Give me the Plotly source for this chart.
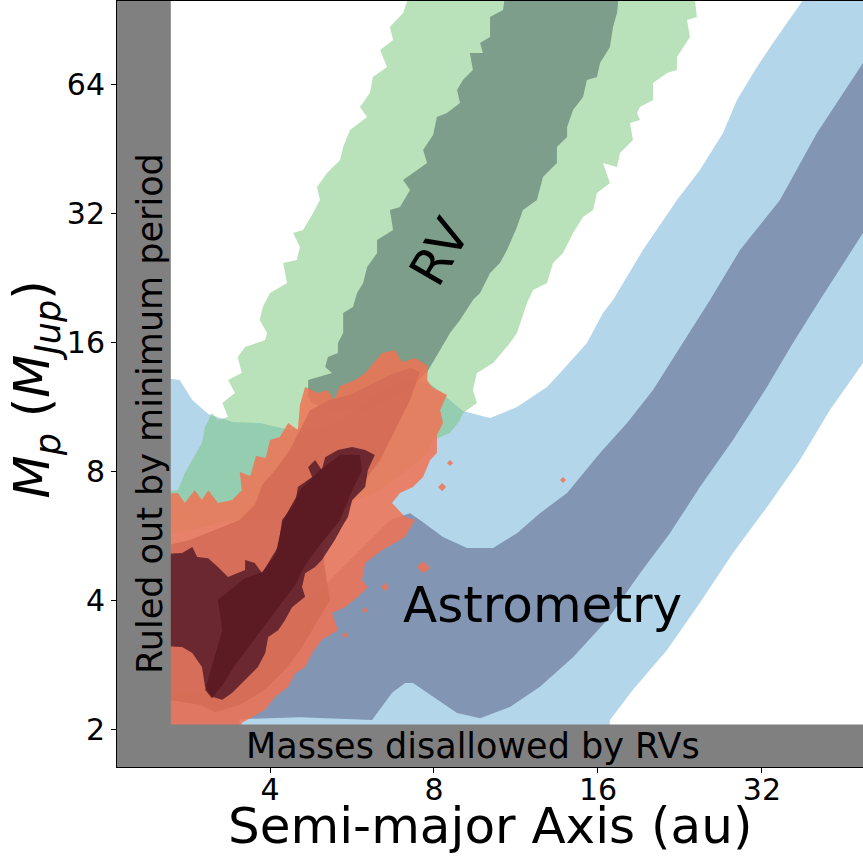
import math
import plotly.graph_objects as go

# Credible-region outlines, vertices as (semi-major axis [au], planet mass [M_Jup])
astro_outer = [(2.0, 1.5), (2.0, 13.76), (2.73, 13.04), (2.88, 11.72), (3.08, 10.87), (3.41, 10.41),
               (3.83, 10.35), (4.35, 9.97), (5.15, 10.24), (6.10, 11.72), (7.08, 13.19), (7.93, 12.70),
               (9.04, 11.04), (10.14, 10.64), (11.36, 11.28), (12.90, 12.56), (13.63, 13.54), (15.27, 15.91),
               (16.34, 18.70), (17.05, 20.05), (19.35, 26.23), (22.34, 34.31), (24.62, 40.32), (27.14, 49.18),
               (28.79, 58.72), (31.33, 70.12), (33.52, 79.77), (40.0, 110), (55, 110), (55, 17.58),
               (42.65, 11.10), (37.58, 8.49), (32.68, 6.59), (28.31, 5.15), (24.62, 3.94), (21.42, 3.06),
               (18.55, 2.47), (16.83, 2.10), (16.48, 1.5)]

astro_inner = [(55, 89.35), (40.37, 49.18), (34.53, 34.31), (29.16, 26.23), (25.69, 20.05), (22.92, 15.91),
               (20.19, 12.36), (18.09, 10.35), (16.14, 8.81), (14.04, 7.11), (12.52, 6.38), (11.36, 5.73),
               (10.27, 5.29), (9.20, 5.29), (8.31, 5.61), (7.54, 6.15), (7.23, 6.38), (6.64, 6.15),
               (5.61, 4.96), (4.54, 3.79), (3.68, 3.06), (2.98, 2.47), (2.0, 2.28), (2.0, 1.5), (3.45, 1.5),
               (3.52, 2.11), (4.54, 2.13), (6.16, 2.10), (6.70, 2.43), (7.08, 2.56), (7.32, 2.56),
               (7.97, 2.38), (8.82, 2.18), (9.72, 2.12), (11.03, 2.25), (12.52, 2.51), (14.40, 2.94),
               (16.62, 3.59), (19.11, 4.62), (21.69, 5.73), (24.62, 7.34), (28.31, 9.45), (32.68, 12.56),
               (36.48, 15.91), (40.89, 20.05), (49.04, 28.74), (55, 36.03)]

rv_outer = [(7.32, 110), (7.02, 93.72), (6.64, 86.93), (6.73, 81.07), (6.37, 76.82), (6.56, 70.12),
            (6.18, 66.45), (6.10, 60.98), (5.85, 56.56), (6.03, 53.60), (5.61, 49.98), (5.45, 45.62),
            (5.38, 42.54), (5.09, 39.67), (4.88, 36.80), (4.94, 34.31), (4.80, 32.00), (4.60, 29.20),
            (4.41, 28.74), (4.54, 26.66), (4.48, 24.86), (4.23, 24.46), (4.30, 21.97), (4.00, 20.82),
            (3.88, 19.31), (3.83, 18.01), (3.95, 16.79), (3.92, 16.17), (3.60, 15.58), (3.49, 14.76),
            (3.55, 13.54), (3.35, 13.04), (3.45, 12.16), (3.27, 11.53), (3.35, 10.69), (3.21, 10.52),
            (3.13, 10.93), (3.04, 10.13), (3.00, 9.30), (2.95, 8.96), (2.79, 7.91), (2.71, 7.22),
            (2.0, 7.03), (2.0, 5.38), (2.85, 5.83), (3.38, 6.15), (4.17, 6.15), (5.15, 6.49), (6.37, 7.22),
            (7.54, 8.49), (7.77, 8.81), (7.97, 9.45), (8.56, 9.81), (8.93, 10.52), (9.04, 10.93),
            (9.59, 11.53), (9.43, 12.36), (9.59, 13.54), (10.27, 14.29), (11.03, 15.91), (11.36, 16.79),
            (11.85, 19.73), (12.16, 21.16), (12.90, 21.97), (13.23, 24.46), (13.80, 25.81), (14.40, 28.74),
            (15.02, 31.32), (15.67, 32.52), (15.93, 35.63), (16.83, 37.60), (16.34, 41.86), (17.34, 40.97),
            (17.56, 44.17), (18.55, 47.37), (18.32, 51.90), (19.11, 52.74), (18.87, 54.76), (19.11, 56.56),
            (20.19, 58.72), (20.19, 64.34), (21.42, 67.89), (22.34, 69.00), (22.34, 73.99), (23.60, 82.38),
            (23.31, 90.26), (24.31, 91.73), (23.91, 110)]

rv_inner = [(10.89, 110), (10.71, 95.24), (10.14, 91.73), (10.14, 82.38), (9.72, 79.77), (9.84, 75.60),
            (9.31, 75.60), (9.43, 69.00), (9.04, 65.39), (8.82, 61.97), (8.93, 57.79), (8.45, 54.76),
            (8.10, 53.60), (7.97, 48.66), (7.64, 44.89), (7.77, 41.86), (7.32, 39.67), (7.02, 38.21),
            (7.23, 36.21), (6.93, 33.05), (6.64, 32.52), (6.73, 29.20), (6.29, 27.68), (6.29, 25.81),
            (6.03, 23.94), (5.93, 21.97), (5.78, 20.82), (5.68, 19.31), (5.45, 18.70), (5.45, 16.79),
            (5.33, 15.91), (5.33, 15.08), (5.11, 14.76), (5.05, 13.99), (5.20, 13.54), (4.90, 13.26),
            (4.70, 13.04), (4.70, 11.91), (4.78, 11.53), (5.15, 11.10), (6.10, 11.10), (7.08, 12.23),
            (7.77, 13.62), (8.21, 15.33), (8.56, 16.79), (8.93, 18.01), (9.43, 20.05), (9.72, 20.82),
            (10.14, 23.18), (10.57, 24.46), (10.89, 26.23), (11.36, 29.68), (11.65, 32.52), (12.36, 34.31),
            (12.68, 38.83), (13.45, 41.86), (13.45, 45.62), (14.04, 48.14), (14.04, 50.79), (14.40, 55.65),
            (15.02, 59.68), (15.27, 65.39), (15.93, 66.45), (16.14, 71.64), (16.83, 78.07), (17.05, 86.93),
            (17.34, 93.72), (17.56, 110)]

joint_3sig = [(2.0, 6.96), (2.71, 7.11), (2.79, 6.74), (2.91, 7.22), (3.00, 6.85), (3.08, 7.22),
              (3.21, 6.74), (3.41, 6.85), (3.55, 7.22), (3.52, 7.96), (3.68, 7.79), (3.77, 8.67),
              (3.93, 8.58), (4.00, 9.45), (4.17, 9.60), (4.32, 10.35), (4.50, 9.97), (4.54, 11.41),
              (4.64, 12.56), (4.90, 12.16), (5.11, 12.36), (5.24, 11.72), (5.38, 12.63), (5.73, 13.04),
              (5.98, 13.54), (6.42, 15.08), (6.78, 15.33), (6.99, 14.37), (7.38, 14.68), (7.80, 14.06),
              (7.77, 13.04), (7.93, 12.56), (8.45, 12.03), (8.21, 11.10), (8.31, 10.35), (8.10, 9.71),
              (8.10, 8.81), (7.87, 8.49), (7.64, 7.75), (7.32, 7.34), (6.93, 7.11), (6.70, 6.74),
              (7.08, 6.25), (7.38, 6.15), (7.08, 5.61), (6.42, 5.23), (5.98, 4.88), (5.90, 4.45),
              (6.05, 4.29), (5.80, 4.07), (5.49, 3.85), (5.20, 3.73), (5.33, 3.40), (4.98, 3.23),
              (4.78, 3.01), (4.64, 2.79), (4.45, 2.70), (4.32, 2.51), (4.09, 2.38), (3.92, 2.22),
              (3.71, 2.13), (3.55, 2.07), (3.49, 1.5), (2.0, 1.5)]

# small detached patches of the outer joint region
joint_3sig_islands = [
    [(7.45, 4.78), (7.64, 4.93), (7.87, 4.75), (7.64, 4.62)],
    [(13.63, 7.62), (13.80, 7.75), (13.98, 7.62), (13.80, 7.50)],
    [(6.39, 4.29), (6.50, 4.38), (6.61, 4.29), (6.50, 4.20)],
    [(5.90, 3.79), (5.98, 3.85), (6.05, 3.79), (5.98, 3.73)],
    [(5.42, 3.31), (5.49, 3.37), (5.56, 3.31), (5.49, 3.26)],
    [(8.45, 8.35), (8.56, 8.49), (8.67, 8.35), (8.56, 8.22)],
    [(8.14, 7.34), (8.28, 7.50), (8.42, 7.34), (8.28, 7.18)],
]

joint_2sig = [(2.0, 4.96), (2.85, 5.52), (3.17, 5.83), (3.52, 6.15), (3.75, 6.66), (3.87, 7.42),
              (4.09, 8.04), (4.35, 8.96), (4.54, 9.97), (4.74, 11.10), (5.15, 11.72), (5.61, 12.03),
              (6.10, 12.70), (6.64, 13.40), (7.23, 13.91), (7.54, 13.62), (7.23, 11.72), (6.78, 9.97),
              (6.37, 8.49), (5.98, 7.62), (5.61, 6.66), (5.33, 6.32), (4.98, 5.52), (5.05, 4.70),
              (5.15, 4.00), (4.84, 3.50), (4.54, 3.06), (4.26, 2.75), (3.92, 2.47), (3.52, 2.28),
              (3.17, 2.19), (2.98, 2.28), (2.0, 2.47)]

joint_1sig = [(5.33, 8.96), (5.66, 9.10), (5.98, 8.96), (6.23, 8.72), (6.05, 8.04), (5.98, 7.34),
              (5.66, 6.85), (5.56, 6.25), (5.42, 5.92), (5.26, 5.52), (4.98, 4.96), (4.84, 4.78),
              (4.64, 4.62), (4.58, 4.29), (4.64, 4.07), (4.39, 3.85), (4.26, 3.59), (4.14, 3.40),
              (3.97, 3.28), (3.92, 3.01), (3.80, 2.79), (3.60, 2.60), (3.41, 2.43), (3.27, 2.34),
              (3.13, 2.38), (3.04, 2.51), (3.00, 2.79), (2.88, 3.01), (2.76, 3.11), (2.0, 3.17),
              (2.0, 5.04), (2.76, 5.15), (2.88, 5.32), (2.94, 5.04), (3.08, 5.01), (3.21, 4.78),
              (3.35, 4.53), (3.60, 4.70), (3.60, 4.96), (3.75, 4.88), (3.87, 4.62), (4.03, 5.04),
              (4.14, 5.32), (4.21, 6.15), (4.45, 6.74), (4.50, 7.34), (4.78, 7.75), (4.70, 8.17),
              (4.84, 8.49), (4.98, 8.04), (5.05, 8.62)]

joint_core = [(3.04, 2.47), (3.17, 2.98), (3.27, 3.40), (3.21, 4.00), (3.60, 4.50), (3.87, 4.65),
              (4.09, 5.09), (4.23, 6.15), (4.54, 7.22), (4.94, 8.04), (5.38, 8.72), (5.85, 8.72),
              (5.90, 8.04), (5.61, 7.03), (5.38, 6.15), (4.94, 5.38), (4.64, 4.83), (4.45, 4.34),
              (4.17, 3.89), (3.92, 3.50), (3.68, 3.14), (3.45, 2.82), (3.27, 2.53), (3.13, 2.36)]

# Excluded regions
min_period_a = 2.63     # au, inner limit from the minimum orbital period
min_mass_m = 2.05       # M_Jup, lower mass limit from the RVs

x_ticks = [4, 8, 16, 32]
y_ticks = [2, 4, 8, 16, 32, 64]
x_lim = (2.095, 49.05)
y_lim = (1.631, 100.0)

FONT = "DejaVu Sans"
GREY = "rgb(128,128,128)"
C_J3 = "rgba(240,114,84,0.85)"

layers = [
    (astro_outer, "rgb(180,214,234)"),
    (astro_inner, "rgb(130,150,180)"),
    (rv_outer, "rgba(116,196,118,0.5)"),
    (rv_inner, "rgba(63,91,90,0.5)"),
    (joint_3sig, C_J3),
] + [(isl, C_J3) for isl in joint_3sig_islands] + [
    (joint_2sig, "rgba(212,107,86,0.85)"),
    (joint_1sig, "rgba(88,28,41,0.85)"),
    (joint_core, "rgba(89,24,32,0.85)"),
]

fig = go.Figure()


def add_region(verts, color):
    a, m = zip(*verts)
    fig.add_trace(go.Scatter(x=list(a) + [a[0]], y=list(m) + [m[0]], mode="lines",
                             fill="toself", fillcolor=color, line=dict(width=0),
                             hoverinfo="skip", showlegend=False))


for verts, color in layers:
    add_region(verts, color)

# grey exclusion bands
add_region([(2.0, 1.5), (min_period_a, 1.5), (min_period_a, 110), (2.0, 110)], GREY)
add_region([(2.0, 1.5), (55, 1.5), (55, min_mass_m), (2.0, min_mass_m)], GREY)

axis_common = dict(type="log", showgrid=False, zeroline=False, showline=True, linecolor="black",
                   linewidth=1, mirror=True, ticks="outside", ticklen=5, tickwidth=1,
                   tickcolor="black", tickfont=dict(family=FONT, size=30, color="black"))

fig.update_layout(
    width=863, height=856,
    margin=dict(l=117, r=0, t=1, b=89),
    paper_bgcolor="white", plot_bgcolor="white",
    xaxis=dict(range=[math.log10(x_lim[0]), math.log10(x_lim[1])], tickvals=x_ticks,
               ticktext=[str(v) for v in x_ticks], ticklabelstandoff=-9, **axis_common),
    yaxis=dict(range=[math.log10(y_lim[0]), math.log10(y_lim[1])], tickvals=y_ticks,
               ticktext=[str(v) for v in y_ticks], **axis_common),
)

notes = [
    dict(text="Astrometry", x=0.571, y=0.212, size=50, angle=0),
    dict(text="RV", x=0.433, y=0.672, size=50, angle=-60),
    dict(text="Ruled out by minimum period", x=0.044, y=0.462, size=35, angle=-90),
    dict(text="Masses disallowed by RVs", x=0.477, y=0.028, size=35, angle=0),
    dict(text="Semi-major Axis (au)", x=0.5, y=-0.077, size=50, angle=0),
    dict(text="<i>M</i><sub><i>p</i></sub> (<i>M</i><sub><i>Jup</i></sub>)", x=-0.108, y=0.4935,
         size=50, angle=-90),
]
for n in notes:
    fig.add_annotation(text=n["text"], x=n["x"], y=n["y"], xref="paper", yref="paper",
                       xanchor="center", yanchor="middle", showarrow=False, textangle=n["angle"],
                       font=dict(family=FONT, size=n["size"], color="black"))

fig.write_html("out.html")
